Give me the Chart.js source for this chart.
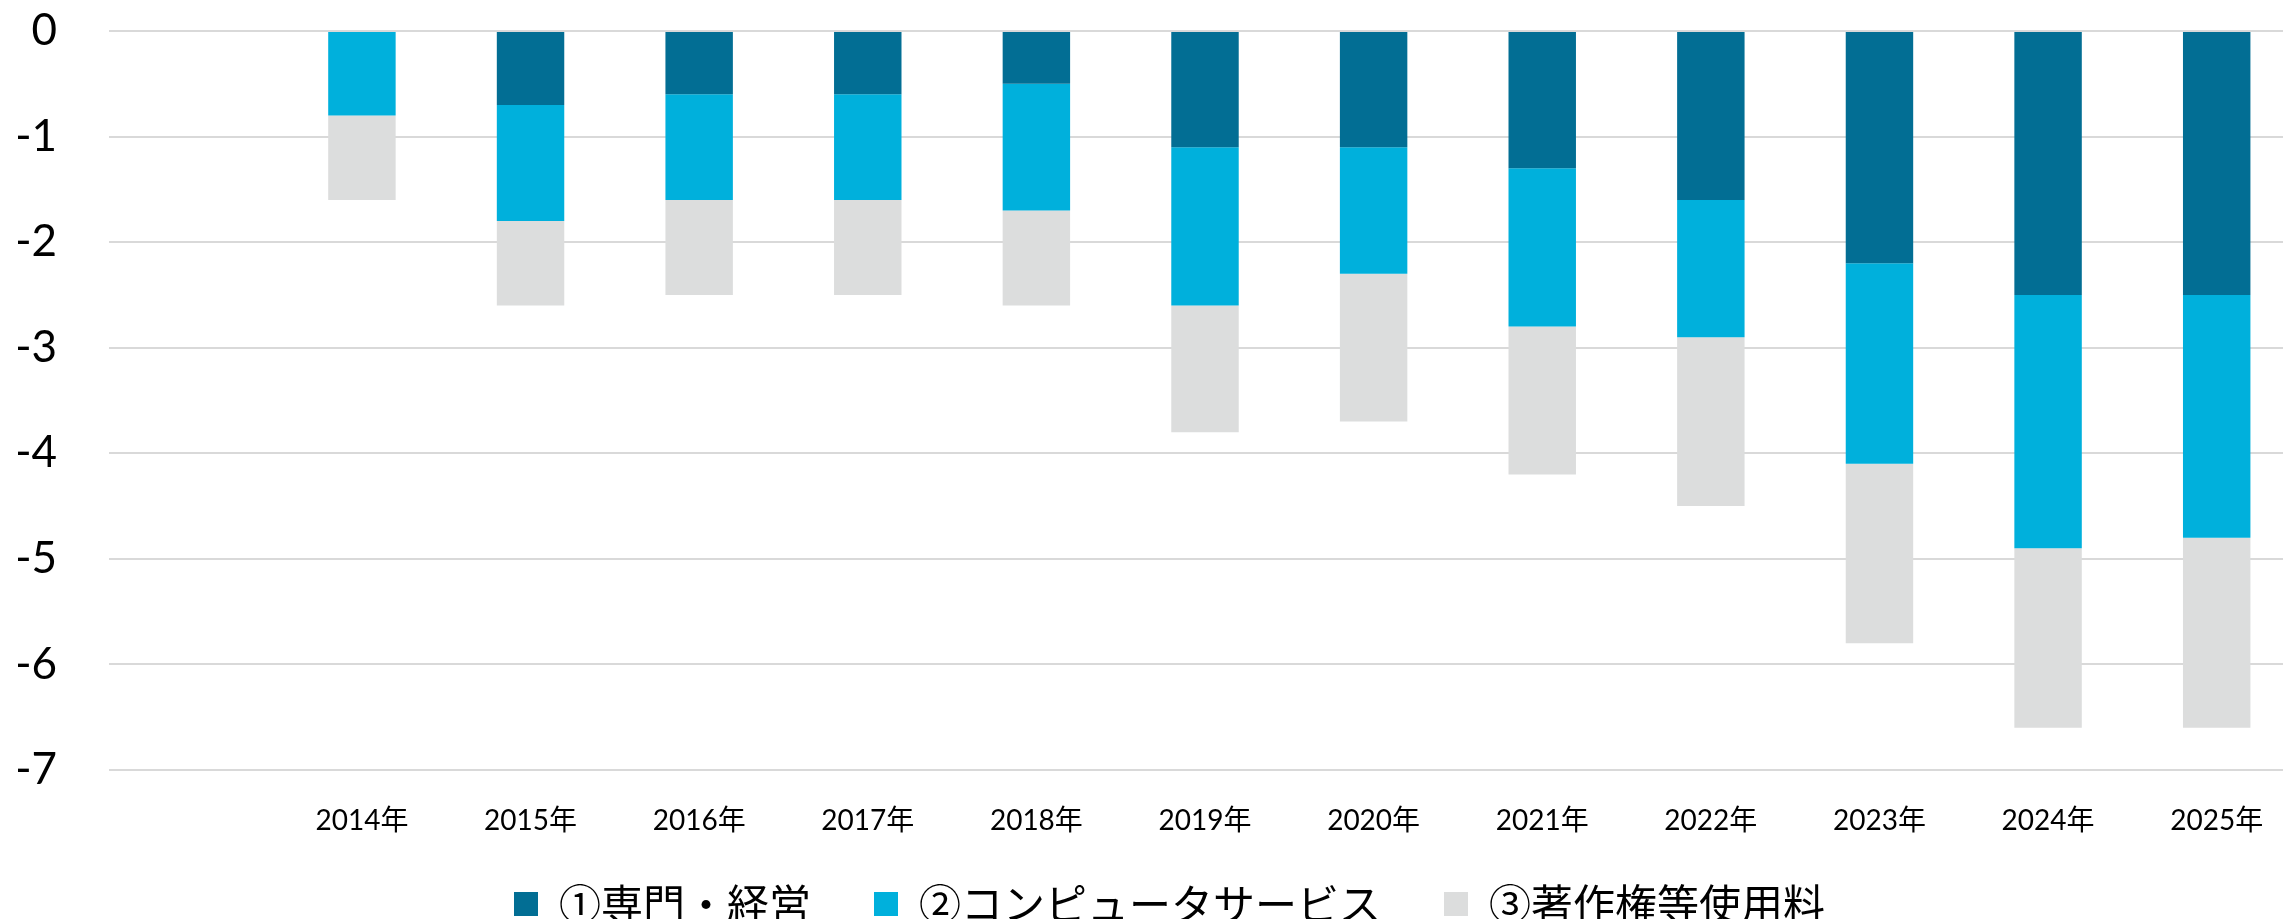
<!DOCTYPE html>
<html>
<head>
<meta charset="utf-8">
<script src="https://cdn.jsdelivr.net/npm/chart.js@4/dist/chart.umd.min.js"></script>
<style>
  html, body { margin: 0; padding: 0; background: #ffffff; overflow: hidden; width: 2283px; height: 919px; }
  #wrap { position: absolute; left: 0; top: 0; width: 2301px; height: 935px; }
</style>
</head>
<body>
<div id="wrap"><canvas id="c" width="2301" height="935" style="width:2301px;height:935px;"></canvas></div>
<script>
// Categories (first slot is an empty category)
const categories = ['', '2014年', '2015年', '2016年', '2017年', '2018年', '2019年', '2020年', '2021年', '2022年', '2023年', '2024年', '2025年'];

// Series names
const seriesNames = ['①専門・経営', '②コンピュータサービス', '③著作権等使用料'];

// Series values (stacked, negative)
const professional = [null, 0, -0.7, -0.6, -0.6, -0.5, -1.1, -1.1, -1.3, -1.6, -2.2, -2.5, -2.5];
const computer     = [null, -0.8, -1.1, -1.0, -1.0, -1.2, -1.5, -1.2, -1.5, -1.3, -1.9, -2.4, -2.3];
const royalties    = [null, -0.8, -0.8, -0.9, -0.9, -0.9, -1.2, -1.4, -1.4, -1.6, -1.7, -1.7, -1.8];

// Y axis range / ticks
const yMin = -7;
const yMax = 0;
const yStep = 1;

const colors = ['#026e94', '#00b0dc', '#dcdddd'];
const latinFont = '"Lato", "Noto Sans CJK JP", sans-serif';
const cjkFont = '"Noto Sans CJK JP", "Lato", sans-serif';

// Legend placement: keeps wide horizontal spacing while sitting low, centred like the reference
const LEGEND_BOX_H = 90;
const LEGEND_DX = 19;
const LEGEND_DY = -25;
const legendPlacement = {
  id: 'legendPlacement',
  beforeLayout(chart) {
    const lg = chart.legend;
    if (lg && !lg.__wrapped) {
      const origFit = lg.fit;
      lg.fit = function () { origFit.call(this); this.height = LEGEND_BOX_H; };
      lg.__wrapped = true;
    }
  },
  afterLayout(chart) {
    const lg = chart.legend;
    if (!lg) return;
    lg.top += LEGEND_DY;
    lg.bottom = chart.height;
    lg.height = lg.bottom - lg.top;
    lg.left += LEGEND_DX; lg.right += LEGEND_DX;
  }
};

new Chart(document.getElementById('c'), {
  type: 'bar',
  data: {
    labels: categories,
    datasets: [
      { label: seriesNames[0], data: professional, backgroundColor: colors[0] },
      { label: seriesNames[1], data: computer, backgroundColor: colors[1] },
      { label: seriesNames[2], data: royalties, backgroundColor: colors[2] }
    ]
  },
  plugins: [legendPlacement],
  options: {
    responsive: false,
    animation: false,
    devicePixelRatio: 1,
    layout: { padding: { left: 0, right: 0, top: 31, bottom: 0 } },
    datasets: { bar: { barPercentage: 0.4, categoryPercentage: 1.0, borderWidth: 0 } },
    plugins: {
      tooltip: { enabled: false },
      legend: {
        position: 'bottom',
        labels: {
          boxWidth: 24,
          boxHeight: 24,
          padding: 63,
          color: '#000000',
          font: { family: cjkFont, size: 42 }
        }
      }
    },
    scales: {
      x: {
        stacked: true,
        offset: true,
        grid: { display: false, drawTicks: false },
        border: { display: false },
        ticks: {
          color: '#000000',
          padding: 34,
          maxRotation: 0,
          autoSkip: false,
          font: { family: latinFont, size: 28 }
        },
        afterFit(scale) { scale.height = 75; }
      },
      y: {
        stacked: true,
        min: yMin,
        max: yMax,
        grid: { color: '#d9d9d9', lineWidth: 2, drawTicks: true, tickLength: 52, tickColor: 'rgba(0,0,0,0)' },
        border: { display: false },
        ticks: {
          stepSize: yStep,
          color: '#000000',
          padding: 0,
          font: { family: latinFont, size: 44 }
        },
        afterFit(scale) { scale.width = 109; }
      }
    }
  }
});
</script>
</body>
</html>
